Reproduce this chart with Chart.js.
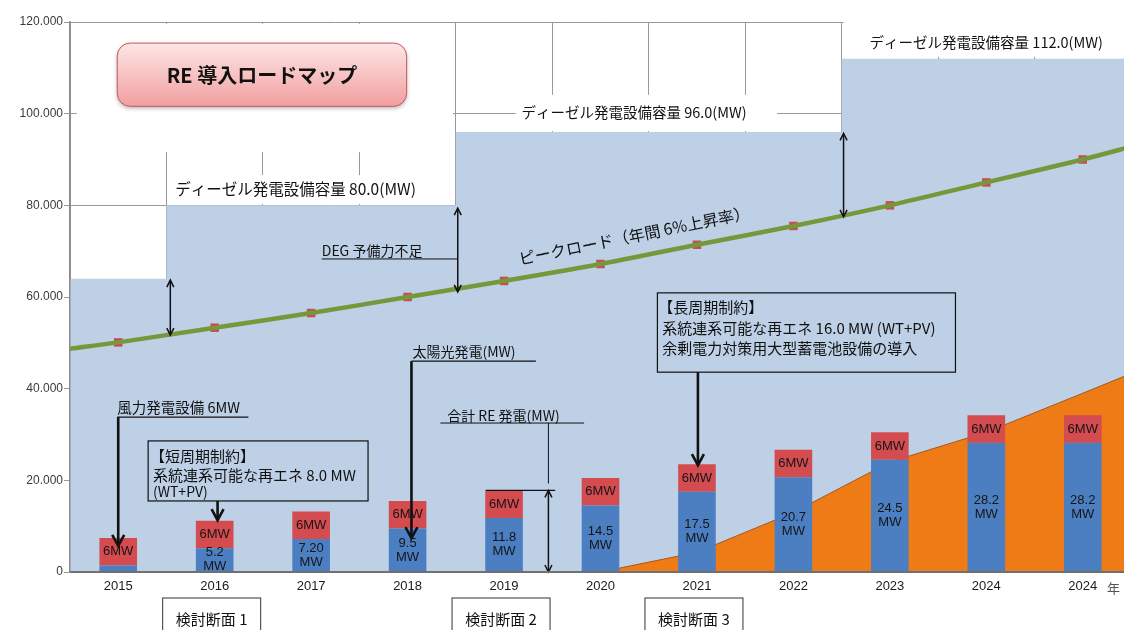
<!DOCTYPE html>
<html lang="ja">
<head>
<meta charset="utf-8">
<title>RE 導入ロードマップ</title>
<script src="https://cdn.jsdelivr.net/npm/chart.js@4.4.1/dist/chart.umd.min.js"></script>
<style>
  html, body { margin: 0; padding: 0; background: #fff; overflow: hidden; }
  #wrap { width: 1124px; height: 630px; overflow: hidden; }
  canvas { display: block; }
</style>
</head>
<body>
<div id="wrap"><canvas id="roadmap" width="1140" height="630"></canvas></div>
<script>
// 年別データ (MW)
const years = ['2015', '2016', '2017', '2018', '2019', '2020', '2021', '2022', '2023', '2024', '2024'];
const solarMW = [1.4, 5.2, 7.2, 9.5, 11.8, 14.5, 17.5, 20.7, 24.5, 28.2, 28.2];
const solarText = ['', '5.2', '7.20', '9.5', '11.8', '14.5', '17.5', '20.7', '24.5', '28.2', '28.2'];
const windMW = [6, 6, 6, 6, 6, 6, 6, 6, 6, 6, 6];
const peakLoad = [50.1, 53.3, 56.5, 60.0, 63.5, 67.2, 71.4, 75.5, 80.0, 85.0, 90.0];
const peakLoadEdges = [48.7, 92.8];      // line value at left / right frame
const dieselCapacity = [64, 80, 80, 80, 96, 96, 96, 96, 112, 112, 112];
const surplusRE = [null, null, null, null, null, 0, 4.3, 13.0, 24.0, 30.5, 39.0];
const surplusEdge = 43.3;                // value at right frame
const yTicks = [0, 20, 40, 60, 80, 100, 120];

const JP = '"Noto Sans CJK JP", sans-serif';
const LAT = '"Liberation Sans", Arial, sans-serif';

const edgeL = -0.5;
const edgeR = years.length - 0.5;
const last = a => a[a.length - 1];

const capacityPts = [{ x: edgeL, y: dieselCapacity[0] }]
  .concat(dieselCapacity.map((v, i) => ({ x: i, y: v })))
  .concat([{ x: edgeR, y: last(dieselCapacity) }]);

const peakPts = [{ x: edgeL, y: peakLoadEdges[0] }]
  .concat(peakLoad.map((v, i) => ({ x: i, y: v })))
  .concat([{ x: edgeR, y: peakLoadEdges[1] }]);

const surplusPts = surplusRE
  .map((v, i) => (v === null ? null : { x: i, y: v }))
  .filter(p => p)
  .concat([{ x: edgeR, y: surplusEdge }]);

const totalMW = solarMW.map((v, i) => v + windMW[i]);

function text(ctx, str, x, y, font, align, color) {
  ctx.font = font;
  ctx.textAlign = align || 'left';
  ctx.textBaseline = 'middle';
  ctx.fillStyle = color || '#111';
  ctx.fillText(str, x, y);
}

function line(ctx, x1, y1, x2, y2, w) {
  ctx.beginPath();
  ctx.lineWidth = w;
  ctx.moveTo(x1, y1);
  ctx.lineTo(x2, y2);
  ctx.stroke();
}

// open chevron head, dir 1 = pointing down, -1 = up
function head(ctx, x, y, dir, w, h, lw) {
  ctx.beginPath();
  ctx.lineWidth = lw;
  ctx.moveTo(x - w, y - dir * h);
  ctx.lineTo(x, y);
  ctx.lineTo(x + w, y - dir * h);
  ctx.stroke();
}

function arrowDown(ctx, x, y1, y2) {
  line(ctx, x, y1, x, y2 - 1, 2.6);
  head(ctx, x, y2, 1, 6, 11, 2.6);
}

function doubleArrow(ctx, x, y1, y2) {
  line(ctx, x, y1 + 1, x, y2 - 1, 1.5);
  head(ctx, x, y1, -1, 3.5, 7, 1.5);
  head(ctx, x, y2, 1, 3.5, 7, 1.5);
}

const barLabels = {
  id: 'barLabels',
  afterDatasetsDraw(chart) {
    const ctx = chart.ctx;
    ctx.save();
    const solar = chart.getDatasetMeta(0).data;
    const wind = chart.getDatasetMeta(1).data;
    wind.forEach((bar, i) => {
      text(ctx, windMW[i] + 'MW', bar.x, (bar.y + bar.base) / 2, '13px ' + LAT, 'center', '#151515');
    });
    solar.forEach((bar, i) => {
      if (!solarText[i]) return;
      const cy = (bar.y + bar.base) / 2;
      text(ctx, solarText[i], bar.x, cy - 7, '13px ' + LAT, 'center', '#151515');
      text(ctx, 'MW', bar.x, cy + 7, '13px ' + LAT, 'center', '#151515');
    });
    ctx.restore();
  }
};

const notes = {
  id: 'notes',
  afterDatasetsDraw(chart) {
    const ctx = chart.ctx;
    const X = v => chart.scales.xl.getPixelForValue(v);
    const Y = v => chart.scales.y.getPixelForValue(v);
    ctx.save();

    // white panel behind the title
    ctx.fillStyle = '#fff';
    ctx.fillRect(X(-0.43), Y(119.6), X(3.47) - X(-0.43), Y(91.6) - Y(119.6));

    // capacity labels on white
    const capLabel = (str, x1, x2, v1, v2, tx, ty, size) => {
      ctx.fillStyle = '#fff';
      ctx.fillRect(X(x1), Y(v1), X(x2) - X(x1), Y(v2) - Y(v1));
      text(ctx, str, X(tx), Y(ty), size + 'px ' + JP, 'left', '#111');
    };
    capLabel('ディーゼル発電設備容量 80.0(MW)', 0.54, 3.26, 86.6, dieselCapacity[1] + 0.3, 0.59, 83.5, 15.5);
    capLabel('ディーゼル発電設備容量 96.0(MW)', 4.12, 6.83, 104.1, dieselCapacity[4] + 0.2, 4.18, 100.2, 14.5);
    capLabel('ディーゼル発電設備容量 112.0(MW)', 7.52, edgeR, 120, dieselCapacity[8] + 0.4, 7.79, 115.6, 14.5);

    // title button
    const tx1 = X(-0.01), tx2 = X(2.99), ty1 = Y(115.4), ty2 = Y(101.6);
    ctx.save();
    ctx.shadowColor = 'rgba(0,0,0,0.3)';
    ctx.shadowBlur = 4;
    ctx.shadowOffsetY = 2;
    const g = ctx.createLinearGradient(0, ty1, 0, ty2);
    g.addColorStop(0, '#fde6e6');
    g.addColorStop(1, '#f29f9f');
    ctx.fillStyle = g;
    ctx.beginPath();
    ctx.roundRect(tx1, ty1, tx2 - tx1, ty2 - ty1, 13);
    ctx.fill();
    ctx.restore();
    ctx.strokeStyle = '#c8575a';
    ctx.lineWidth = 1;
    ctx.beginPath();
    ctx.roundRect(tx1, ty1, tx2 - tx1, ty2 - ty1, 13);
    ctx.stroke();
    text(ctx, 'RE 導入ロードマップ', (tx1 + tx2) / 2, (ty1 + ty2) / 2 + 1, 'bold 20px ' + JP, 'center', '#111');

    ctx.strokeStyle = '#111';

    // reserve margin arrows
    doubleArrow(ctx, X(0.54), Y(dieselCapacity[0] - 0.3), Y(51.7));
    doubleArrow(ctx, X(3.52), Y(dieselCapacity[3] - 0.6), Y(61.1));
    doubleArrow(ctx, X(7.52), Y(dieselCapacity[7] - 0.3), Y(77.5));
    text(ctx, 'DEG 予備力不足', X(2.11), Y(70.0), '14px ' + JP, 'left', '#111');
    line(ctx, X(2.11), Y(68.3), X(3.52), Y(68.3), 1);

    // peak load caption along the line
    ctx.save();
    ctx.translate(X(5.35), Y(73.4));
    ctx.rotate(-11.5 * Math.PI / 180);
    text(ctx, 'ピークロード（年間 6%上昇率）', 0, 0, '16px ' + JP, 'center', '#111');
    ctx.restore();

    // wind
    text(ctx, '風力発電設備 6MW', X(-0.01), Y(36.0), '14.5px ' + JP, 'left', '#111');
    line(ctx, X(-0.01), Y(33.8), X(1.35), Y(33.8), 1.2);
    arrowDown(ctx, X(0), Y(33.8), Y(5.7));

    // short period constraint
    ctx.lineWidth = 1.2;
    ctx.strokeRect(X(0.31), Y(28.6), X(2.59) - X(0.31), Y(15.5) - Y(28.6));
    text(ctx, '【短周期制約】', X(0.33), Y(25.3), '15px ' + JP, 'left', '#111');
    text(ctx, '系統連系可能な再エネ 8.0 MW', X(0.36), Y(21.2), '15px ' + JP, 'left', '#111');
    text(ctx, '(WT+PV)', X(0.36), Y(17.5), '14px ' + JP, 'left', '#111');
    arrowDown(ctx, X(1.03), Y(15.5), Y(11.3));

    // solar
    text(ctx, '太陽光発電(MW)', X(3.05), Y(48.0), '14px ' + JP, 'left', '#111');
    line(ctx, X(3.04), Y(46.0), X(4.33), Y(46.0), 1.2);
    arrowDown(ctx, X(3.04), Y(46.0), Y(7.4));

    // total RE
    text(ctx, '合計 RE 発電(MW)', X(3.41), Y(34.0), '14px ' + JP, 'left', '#111');
    line(ctx, X(3.34), Y(32.5), X(4.83), Y(32.5), 1);
    line(ctx, X(4.46), Y(32.5), X(4.46), Y(totalMW[4] + 1.5), 1);
    line(ctx, X(3.81), Y(totalMW[4]), X(4.53), Y(totalMW[4]), 1.2);
    doubleArrow(ctx, X(4.46), Y(totalMW[4]), Y(0));

    // long period constraint
    ctx.lineWidth = 1.2;
    ctx.strokeRect(X(5.59), Y(60.9), X(8.68) - X(5.59), Y(43.6) - Y(60.9));
    text(ctx, '【長周期制約】', X(5.6), Y(57.8), '15px ' + JP, 'left', '#111');
    text(ctx, '系統連系可能な再エネ 16.0 MW (WT+PV)', X(5.64), Y(53.2), '15px ' + JP, 'left', '#111');
    text(ctx, '余剰電力対策用大型蓄電池設備の導入', X(5.64), Y(48.9), '15px ' + JP, 'left', '#111');
    arrowDown(ctx, X(6.01), Y(43.6), Y(totalMW[6] - 0.2));

    ctx.restore();
  },
  afterDraw(chart) {
    const ctx = chart.ctx;
    const X = v => chart.scales.xl.getPixelForValue(v);
    const bottom = chart.chartArea.bottom;
    ctx.save();
    text(ctx, '年', X(10.25), bottom + 16, '13px ' + JP, 'left', '#555');
    // review points under the axis
    [[1, '検討断面 1'], [4, '検討断面 2'], [6, '検討断面 3']].forEach(([i, label]) => {
      const cx = X(i) - 3;
      ctx.strokeStyle = '#333';
      ctx.lineWidth = 1;
      ctx.strokeRect(cx - 49, bottom + 26, 98, 40);
      text(ctx, label, cx, bottom + 47, '15px ' + JP, 'center', '#111');
    });
    ctx.restore();
  }
};

new Chart(document.getElementById('roadmap'), {
  type: 'bar',
  data: {
    labels: years,
    datasets: [
      {
        label: '太陽光発電',
        data: solarMW,
        backgroundColor: '#4b7fc2',
        stack: 'gen',
        grouped: false,
        order: 1
      },
      {
        label: '風力発電設備',
        data: windMW,
        backgroundColor: '#d44b50',
        stack: 'gen',
        grouped: false,
        order: 1
      },
      {
        type: 'line',
        label: 'ディーゼル発電設備容量',
        data: capacityPts,
        xAxisID: 'xl',
        stepped: 'middle',
        borderWidth: 0,
        pointRadius: 0,
        backgroundColor: '#bed0e6',
        fill: 'origin',
        order: 6
      },
      {
        type: 'line',
        label: '余剰電力',
        data: surplusPts,
        xAxisID: 'xl',
        borderColor: '#a9561c',
        borderWidth: 1,
        pointRadius: 0,
        backgroundColor: '#ee7b15',
        fill: 'origin',
        order: 5
      },
      {
        type: 'line',
        label: 'ピークロード点',
        data: peakLoad.map((v, i) => ({ x: i, y: v })),
        xAxisID: 'xl',
        showLine: false,
        pointStyle: 'rect',
        pointRadius: 6,
        pointBorderWidth: 0,
        pointBackgroundColor: '#cc4a55',
        order: 4
      },
      {
        type: 'line',
        label: 'ピークロード',
        data: peakPts,
        xAxisID: 'xl',
        borderColor: '#77973b',
        borderWidth: 4.5,
        tension: 0.3,
        pointRadius: 0,
        fill: false,
        order: 3
      }
    ]
  },
  options: {
    responsive: false,
    animation: false,
    events: [],
    categoryPercentage: 1,
    barPercentage: 0.39,
    layout: { padding: { top: 22, right: 9, left: 0, bottom: 0 } },
    plugins: {
      legend: { display: false },
      tooltip: { enabled: false }
    },
    scales: {
      x: {
        grid: { color: '#999', lineWidth: 1, drawTicks: false, offset: true },
        border: { color: '#707070', width: 2, z: 1 },
        ticks: { font: { family: LAT, size: 13 }, color: '#1a1a1a', padding: 7, autoSkip: false, maxRotation: 0 },
        afterFit: s => { s.height = 58; }
      },
      xl: {
        type: 'linear',
        display: false,
        position: 'bottom',
        offset: false,
        grid: { offset: false },
        min: edgeL,
        max: edgeR
      },
      y: {
        min: 0,
        max: 120,
        grid: { color: '#999', lineWidth: 1, tickLength: 6 },
        border: { color: '#8a8a8a', width: 1.5, z: 1 },
        afterBuildTicks: s => { s.ticks = yTicks.map(v => ({ value: v })); },
        ticks: {
          font: { family: LAT, size: 12 },
          color: '#3a3a3a',
          padding: 1,
          callback: v => (v === 0 ? '0' : v.toFixed(3))
        },
        afterFit: s => { s.width = 70; }
      }
    }
  },
  plugins: [barLabels, notes]
});
</script>
</body>
</html>
